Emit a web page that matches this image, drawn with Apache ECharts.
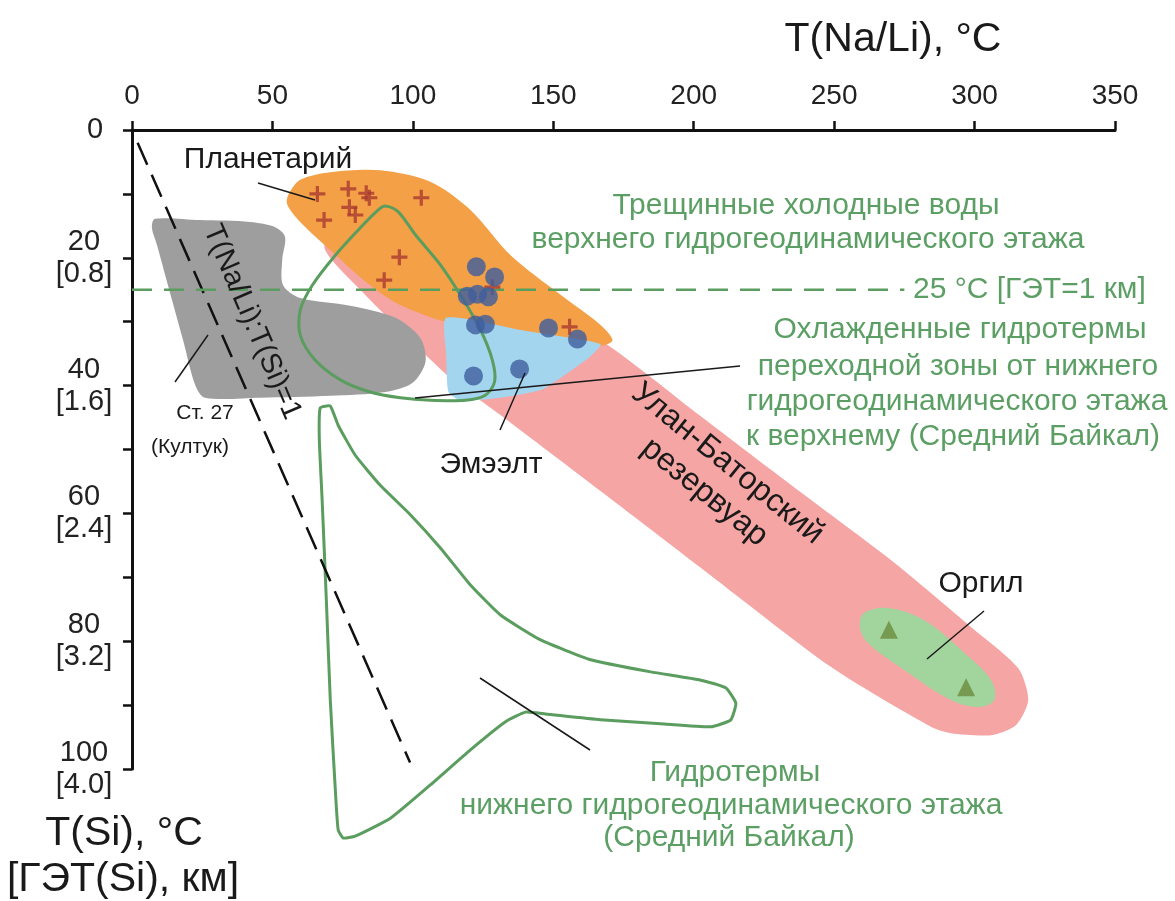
<!DOCTYPE html>
<html>
<head>
<meta charset="utf-8">
<script src="https://cdn.jsdelivr.net/npm/echarts/dist/echarts.min.js"></script>
<style>
  html, body { margin: 0; padding: 0; background: #ffffff; }
  #chart { width: 1175px; height: 901px; }
</style>
</head>
<body>
<div id="chart"></div>
<script>
// ---- Axis ticks -----------------------------------------------------------
var xTickValues = [0, 50, 100, 150, 200, 250, 300, 350];
var yTickValues = [0, 20, 40, 60, 80, 100];
var yDepthLabels = ['', '[0.8]', '[1.6]', '[2.4]', '[3.2]', '[4.0]'];

// ---- Point data: [T(Na/Li), T(Si)] ----------------------------------------
var planetariyPoints = [
  [66.0, 10.0], [77.0, 9.2], [83.4, 9.9], [84.5, 10.6], [103.0, 10.6],
  [77.4, 12.1], [79.5, 13.3], [68.4, 14.1], [95.2, 19.9], [89.8, 23.5],
  [128.3, 24.6], [155.8, 30.8]
];
var emeeltPoints = [
  [122.6, 21.4], [129.1, 23.0], [119.4, 26.0], [123.0, 25.7], [126.9, 26.1],
  [122.3, 30.5], [125.8, 30.4], [148.3, 31.0], [158.6, 32.7], [121.6, 38.5],
  [138.0, 37.4]
];
var orgilPoints = [[269.5, 78.2], [297.0, 87.2]];

// ---- Field outlines: [T(Na/Li), T(Si)] ------------------------------------
var kultukField = [
  [8.2, 13.9], [24.2, 14.1], [42.1, 14.4], [51.0, 15.2], [54.5, 16.7], [53.5, 20.3],
  [53.8, 24.3], [59.9, 26.3], [77.7, 27.5], [93.8, 29.4], [102.7, 32.6], [104.5, 36.3],
  [99.8, 39.6], [90.2, 41.0], [70.6, 41.6], [45.6, 41.9], [26.0, 41.9], [22.5, 39.9],
  [18.2, 32.9], [12.8, 24.3], [8.9, 18.0], [7.1, 15.3]
];
var ulanBatorField = [
  [70.6, 15.3], [102.7, 19.6], [131.2, 25.0], [166.8, 32.9], [202.5, 44.8], [238.1, 56.7],
  [270.2, 67.3], [298.8, 77.8], [315.5, 84.2], [319.1, 89.2], [314.8, 93.1], [305.9, 94.7],
  [291.6, 94.4], [284.5, 93.4], [248.8, 84.0], [202.5, 68.5], [166.8, 56.5], [131.2, 44.6],
  [113.4, 38.8], [95.5, 31.3], [81.3, 25.0], [68.8, 18.8]
];
var planetariyField = [
  [55.6, 10.2], [59.9, 7.8], [70.6, 6.6], [88.4, 6.3], [106.2, 8.1], [120.5, 12.5],
  [134.8, 19.6], [152.6, 25.8], [166.8, 30.5], [171.1, 32.9], [166.8, 33.8], [152.6, 33.6],
  [111.6, 30.0], [95.5, 27.4], [84.8, 24.3], [70.6, 18.8], [59.9, 14.4], [55.3, 11.7]
];
var emeeltField = [
  [111.9, 29.4], [138.3, 31.3], [166.8, 33.5], [163.3, 35.4], [152.6, 38.8], [145.5, 40.7],
  [131.2, 41.9], [116.9, 42.3], [112.7, 41.0], [111.9, 35.2]
];
var orgilField = [
  [260.6, 75.6], [269.2, 74.8], [282.0, 76.7], [296.3, 81.8], [305.9, 86.1], [307.0, 89.2],
  [301.2, 90.3], [291.6, 89.2], [274.9, 84.5], [262.0, 80.3], [259.2, 77.8]
];
var transitionField = [
  [90.2, 11.9], [94.8, 12.8], [100.9, 16.4], [109.8, 21.1], [117.6, 26.3], [124.1, 31.3],
  [128.3, 36.0], [129.1, 39.4], [125.8, 41.5], [118.7, 42.3], [106.2, 42.3], [95.5, 41.9],
  [84.8, 41.0], [74.2, 39.1], [65.2, 36.0], [59.9, 32.1], [59.9, 28.2], [64.2, 24.3],
  [72.4, 19.6], [81.3, 15.3], [87.7, 12.5]
];
var lowerStageField = [
  [67.0, 43.5], [70.6, 43.2], [73.4, 46.2], [79.5, 50.9], [88.4, 55.6], [99.1, 60.2],
  [109.8, 65.4], [120.5, 71.2], [131.2, 75.9], [145.5, 79.8], [163.3, 82.9], [184.7, 84.8],
  [202.5, 86.1], [211.4, 87.3], [215.0, 89.7], [213.2, 92.3], [206.1, 93.4], [188.2, 92.9],
  [166.8, 92.3], [147.2, 91.4], [140.1, 91.1], [133.0, 92.6], [120.5, 97.0], [106.2, 102.5],
  [92.0, 107.7], [79.5, 110.5], [75.2, 110.8], [73.4, 109.5], [72.4, 103.3], [70.6, 89.2],
  [69.2, 73.6], [67.7, 57.9], [66.7, 48.5]
];

// Reference lines
var equalityLine = [[2, 2], [99, 99]];          // T(Na/Li) : T(Si) = 1
var coldWaterLine = [[0, 25], [275, 25]];       // 25 °C, ГЭТ = 1 км

// ---- Styling ------------------------------------------------------------
var FONT = '"Liberation Sans", Arial, sans-serif';
var INK = '#1a1a1a';
var GREEN_TEXT = '#5c9f64';
var GREEN_LINE = '#5a9d5e';

function fieldSeries(name, pts, fill, stroke, z, smooth) {
  return {
    type: 'custom',
    name: name,
    z: z,
    silent: true,
    clip: false,
    data: pts,
    encode: { x: 0, y: 1 },
    renderItem: function (params, api) {
      if (params.dataIndex !== 0) return null;
      var points = pts.map(function (p) { return api.coord(p); });
      return {
        type: 'polygon',
        shape: { points: points, smooth: smooth },
        style: {
          fill: fill || 'none',
          stroke: stroke || 'none',
          lineWidth: stroke ? 3 : 0,
          lineJoin: 'round'
        }
      };
    }
  };
}

var plusPath = 'path://M4,0H6V4H10V6H6V10H4V6H0V4H4Z';

var chart = echarts.init(document.getElementById('chart'), null, { renderer: 'canvas' });

var option = {
  backgroundColor: '#ffffff',
  animation: false,
  grid: { left: 132, right: 60, top: 130, bottom: 132, containLabel: false },
  xAxis: {
    type: 'value',
    position: 'top',
    min: 0, max: 350, interval: 50,
    axisLine: { show: true, onZero: false, lineStyle: { color: '#111', width: 3 } },
    axisTick: { show: true, length: 9, lineStyle: { color: '#111', width: 2.5 } },
    axisLabel: {
      margin: 20,
      color: '#222',
      fontSize: 28,
      fontFamily: FONT,
      formatter: function (v) { return xTickValues.indexOf(v) >= 0 ? String(v) : ''; }
    },
    splitLine: { show: false }
  },
  yAxis: {
    type: 'value',
    inverse: true,
    min: 0, max: 100, interval: 10,
    axisLine: { show: true, onZero: false, lineStyle: { color: '#111', width: 3 } },
    axisTick: { show: true, length: 9, lineStyle: { color: '#111', width: 2.5 } },
    axisLabel: {
      interval: 0,
      margin: 48,
      align: 'center',
      color: '#222',
      fontSize: 29,
      fontFamily: FONT,
      lineHeight: 32,
      formatter: function (v) {
        var i = yTickValues.indexOf(v);
        if (i < 0) return '';
        if (v === 0) return '{z|0}';
        return v + '\n' + yDepthLabels[i];
      },
      rich: {
        z: { fontSize: 29, fontFamily: FONT, color: '#222', padding: [0, 0, 0, 22] }
      }
    },
    splitLine: { show: false }
  },
  series: [
    fieldSeries('Улан-Баторский резервуар', ulanBatorField, '#f5a5a3', null, 1, 0.25),
    fieldSeries('Ст. 27 (Култук)', kultukField, '#9e9e9e', null, 2, 0.3),
    fieldSeries('Планетарий', planetariyField, '#f4a047', null, 3, 0.3),
    fieldSeries('Эмээлт', emeeltField, '#a4d5ee', null, 4, 0.2),
    fieldSeries('Оргил', orgilField, '#a2d49e', null, 4, 0.35),
    fieldSeries('Охлажденные гидротермы', transitionField, null, GREEN_LINE, 6, 0.3),
    fieldSeries('Гидротермы нижнего этажа', lowerStageField, null, GREEN_LINE, 6, 0.15),
    {
      type: 'line', name: 'T(Na/Li):T(Si)=1', z: 7, data: equalityLine,
      symbol: 'none', silent: true,
      lineStyle: { color: '#111', width: 2.5, type: [24, 11] }
    },
    {
      type: 'line', name: '25 °C', z: 7, data: coldWaterLine,
      symbol: 'none', silent: true,
      lineStyle: { color: GREEN_LINE, width: 2.5, type: [20, 12] }
    },
    {
      type: 'scatter', name: 'Планетарий', z: 8, data: planetariyPoints,
      symbol: plusPath, symbolSize: 16,
      itemStyle: { color: '#a93a30' }
    },
    {
      type: 'scatter', name: 'Эмээлт', z: 8, data: emeeltPoints,
      symbol: 'circle', symbolSize: 19,
      itemStyle: { color: '#3f5e9e' }
    },
    {
      type: 'scatter', name: 'Оргил', z: 8, data: orgilPoints,
      symbol: 'triangle', symbolSize: 18,
      itemStyle: { color: '#6c8b3b' }
    }
  ]
};

chart.setOption(option);

// ---- Annotations ----------------------------------------------------------
function txt(text, x, y, size, color, align, rotationDeg) {
  return {
    type: 'text', x: x, y: y, z: 100,
    rotation: rotationDeg ? rotationDeg * Math.PI / 180 : 0,
    style: {
      text: text,
      fontSize: size,
      fontFamily: FONT,
      fill: color,
      align: align || 'center',
      verticalAlign: 'middle',
      lineHeight: size * 1.15
    }
  };
}
function leader(x1, y1, x2, y2) {
  return {
    type: 'line', z: 99,
    shape: { x1: x1, y1: y1, x2: x2, y2: y2 },
    style: { stroke: INK, lineWidth: 1.5 }
  };
}

chart.setOption({
  graphic: [
    txt('T(Na/Li), °C', 893, 40, 41, INK),
    txt('T(Si), °C', 124, 834, 41, INK),
    txt('[ГЭТ(Si), км]', 123, 880, 41, INK),

    txt('Планетарий', 268, 160, 30, INK),
    leader(258, 183, 315, 200),

    txt('Трещинные холодные воды', 806, 206, 30, GREEN_TEXT),
    txt('верхнего гидрогеодинамического этажа', 808, 240, 30, GREEN_TEXT),
    txt('25 °C [ГЭТ=1 км]', 913, 290, 30, GREEN_TEXT, 'left'),

    txt('Охлажденные гидротермы', 960, 330, 30, GREEN_TEXT),
    txt('переходной зоны от нижнего', 958, 367, 30, GREEN_TEXT),
    txt('гидрогеодинамического этажа', 957, 402, 30, GREEN_TEXT),
    txt('к верхнему (Средний Байкал)', 953, 437, 30, GREEN_TEXT),
    leader(415, 398, 740, 366),

    txt('Эмээлт', 491, 465, 30, INK),
    leader(500, 430, 525, 373),

    txt('Ст. 27', 205, 413, 21, INK),
    txt('(Култук)', 190, 447, 21, INK),
    leader(175, 382, 208, 335),

    txt('T(Na/Li):T(Si)=1', 252, 322, 29, INK, 'center', -66.8),
    txt('Улан-Баторский\nрезервуар', 716, 478, 32, INK, 'center', -39),

    txt('Оргил', 981, 584, 30, INK),
    leader(927, 659, 984, 611),

    txt('Гидротермы', 735, 773, 30, GREEN_TEXT),
    txt('нижнего гидрогеодинамического этажа', 731, 806, 30, GREEN_TEXT),
    txt('(Средний Байкал)', 729, 838, 30, GREEN_TEXT),
    leader(480, 678, 590, 750)
  ]
});
</script>
</body>
</html>
